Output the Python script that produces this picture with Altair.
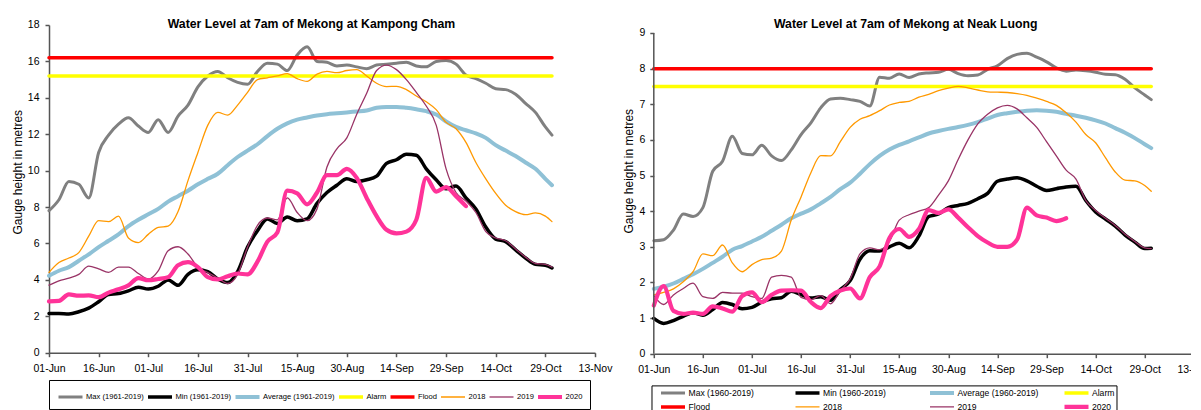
import altair as alt
import pandas as pd

# ---------------- data (days counted from 01-Jun) ----------------
DAYS = list(range(0, 151, 3)) + [152]
DAYS_2020 = DAYS[:43]
LINE_END = 152

TICK_DAYS = list(range(0, 166, 15))
TICK_LABELS = ["01-Jun", "16-Jun", "01-Jul", "16-Jul", "31-Jul", "15-Aug",
               "30-Aug", "14-Sep", "29-Sep", "14-Oct", "29-Oct", "13-Nov"]

KC_SERIES = ["Max (1961-2019)", "Min (1961-2019)", "Average (1961-2019)",
             "Alarm", "Flood", "2018", "2019", "2020"]
NL_SERIES = ["Max (1960-2019)", "Min (1960-2019)", "Average (1960-2019)",
             "Alarm", "Flood", "2018", "2019", "2020"]

# Kampong Cham
KC_MAX = [7.8, 8.4, 9.4, 9.25, 8.5, 11.0, 11.95, 12.55, 12.9, 12.45, 12.1, 12.8, 12.1,
          13.0, 13.6, 14.6, 15.2, 15.45, 15.1, 14.85, 14.75, 15.45, 15.9, 15.85, 15.5,
          16.35, 16.8, 16.0, 15.95, 15.75, 15.8, 15.7, 15.6, 15.8, 15.85, 15.9, 15.95,
          15.75, 15.7, 16.0, 16.05, 15.85, 15.25, 15.05, 14.8, 14.5, 14.45, 14.2, 13.7,
          13.2, 12.4, 11.95]
KC_MIN = [2.15, 2.15, 2.13, 2.25, 2.45, 2.8, 3.2, 3.25, 3.4, 3.6, 3.5, 3.65, 4.0, 3.7,
          4.3, 4.55, 4.45, 4.05, 3.85, 4.45, 5.8, 6.7, 7.35, 7.1, 7.45, 7.25, 7.35, 8.2,
          8.8, 9.2, 9.55, 9.4, 9.5, 9.7, 10.4, 10.6, 10.9, 10.85, 10.1, 9.5, 9.0, 9.15,
          8.5, 7.9, 6.9, 6.24, 6.1, 5.65, 5.2, 4.85, 4.8, 4.65]
KC_AVG = [4.22, 4.5, 4.7, 5.05, 5.4, 5.8, 6.15, 6.5, 6.95, 7.3, 7.6, 7.9, 8.3, 8.6, 8.9,
          9.25, 9.55, 9.83, 10.3, 10.75, 11.1, 11.45, 11.9, 12.3, 12.6, 12.8, 12.92,
          13.03, 13.1, 13.15, 13.2, 13.25, 13.3, 13.45, 13.5, 13.5, 13.45, 13.37, 13.27,
          13.08, 12.7, 12.4, 12.22, 12.05, 11.8, 11.4, 11.1, 10.8, 10.45, 10.1, 9.55, 9.2]
KC_2018 = [4.41, 4.95, 5.2, 5.5, 6.4, 7.25, 7.2, 7.5, 6.3, 6.05, 6.5, 6.88, 6.95, 7.75,
           9.45, 11.0, 12.5, 13.2, 13.05, 13.6, 14.3, 15.0, 15.1, 15.2, 15.33, 15.05,
           14.9, 15.3, 15.45, 15.38, 15.5, 15.55, 15.2, 14.8, 14.62, 14.63, 14.45, 14.1,
           13.78, 13.35, 12.65, 12.3, 11.55, 10.45, 9.55, 8.75, 8.1, 7.75, 7.58, 7.68,
           7.5, 7.2]
KC_2019 = [3.71, 3.95, 4.1, 4.3, 4.75, 4.6, 4.41, 4.7, 4.7, 4.35, 4.05, 4.5, 5.6, 5.82,
           5.42, 4.7, 4.4, 4.1, 3.8, 4.3, 5.8, 7.0, 7.4, 7.3, 8.5, 7.7, 7.25, 7.9, 10.2,
           11.2, 11.8, 13.1, 14.25, 15.5, 15.8, 15.55, 15.0, 14.3, 13.55, 12.5, 10.1, 8.8,
           8.33, 7.7, 6.65, 6.3, 6.15, 5.7, 5.25, 4.9, 4.85, 4.7]
KC_2020 = [2.82, 2.85, 3.2, 3.13, 3.15, 3.05, 3.3, 3.48, 3.7, 4.1, 3.98, 4.05, 4.15, 4.8,
           4.97, 4.7, 4.15, 4.02, 4.2, 4.35, 4.3, 5.0, 6.1, 6.6, 8.9, 8.75, 8.15, 8.8,
           9.75, 9.75, 10.1, 9.6, 8.5, 7.5, 6.75, 6.55, 6.65, 7.3, 9.6, 8.85, 9.1, 8.6,
           8.05]
KC_ALARM = 15.2
KC_FLOOD = 16.2

# Neak Luong
NL_MAX = [3.17, 3.2, 3.47, 3.92, 3.85, 4.1, 5.12, 5.4, 6.1, 5.62, 5.58, 5.85, 5.55, 5.42,
          5.72, 6.15, 6.48, 6.9, 7.15, 7.17, 7.13, 7.08, 6.95, 7.76, 7.73, 7.85, 7.75,
          7.85, 7.88, 7.9, 7.98, 7.86, 7.8, 7.82, 7.98, 8.08, 8.28, 8.4, 8.43, 8.32, 8.19,
          8.02, 7.93, 7.96, 7.94, 7.9, 7.84, 7.83, 7.7, 7.46, 7.26, 7.13]
NL_MIN = [0.99, 0.85, 0.93, 1.05, 1.15, 1.08, 1.24, 1.44, 1.38, 1.26, 1.3, 1.45, 1.54,
          1.57, 1.75, 1.66, 1.56, 1.6, 1.5, 1.8, 2.05, 2.65, 2.89, 2.88, 3.0, 3.1, 2.97,
          3.3, 3.85, 3.92, 4.1, 4.16, 4.22, 4.35, 4.5, 4.84, 4.9, 4.94, 4.85, 4.7, 4.58,
          4.63, 4.68, 4.7, 4.3, 3.98, 3.78, 3.58, 3.33, 3.13, 2.95, 2.96]
NL_AVG = [1.82, 1.88, 1.97, 2.1, 2.23, 2.38, 2.55, 2.72, 2.92, 3.02, 3.15, 3.28, 3.45,
          3.62, 3.8, 3.93, 4.05, 4.22, 4.4, 4.62, 4.8, 5.05, 5.32, 5.55, 5.73, 5.86, 5.96,
          6.07, 6.18, 6.25, 6.31, 6.36, 6.42, 6.5, 6.6, 6.7, 6.75, 6.79, 6.82, 6.83, 6.82,
          6.79, 6.73, 6.68, 6.62, 6.55, 6.46, 6.33, 6.2, 6.05, 5.88, 5.77]
NL_2018 = [1.65, 1.72, 1.82, 2.02, 2.3, 2.8, 2.75, 3.05, 2.55, 2.3, 2.5, 2.64, 2.68, 2.88,
           3.75, 4.4, 5.08, 5.56, 5.55, 5.95, 6.35, 6.58, 6.68, 6.82, 6.98, 7.05, 7.08,
           7.2, 7.28, 7.38, 7.45, 7.5, 7.46, 7.4, 7.35, 7.34, 7.33, 7.3, 7.25, 7.17, 7.08,
           6.97, 6.76, 6.5, 6.15, 5.92, 5.5, 5.1, 4.87, 4.85, 4.72, 4.56]
NL_2019 = [1.63, 1.38, 1.65, 1.83, 1.98, 1.6, 1.55, 1.72, 1.7, 1.7, 1.6, 1.55, 2.15, 2.2,
           2.15, 1.58, 1.52, 1.63, 1.4, 1.77, 2.1, 2.8, 2.97, 2.92, 3.15, 3.75, 3.9, 4.0,
           4.1, 4.45, 4.85, 5.45, 6.0, 6.45, 6.72, 6.9, 6.97, 6.87, 6.62, 6.35, 5.95, 5.55,
           5.15, 4.9, 4.3, 4.02, 3.8, 3.6, 3.35, 3.15, 2.97, 2.95]
NL_2020 = [1.35, 1.9, 1.2, 1.12, 1.15, 1.12, 1.33, 1.27, 1.18, 1.62, 1.72, 1.45, 1.65,
           1.77, 1.78, 1.77, 1.45, 1.28, 1.62, 1.77, 1.83, 1.55, 2.15, 2.45, 3.25, 3.5,
           3.28, 3.5, 4.03, 3.95, 4.05, 3.82, 3.55, 3.3, 3.12, 3.0, 3.0, 3.2, 4.1, 3.88,
           3.82, 3.72, 3.8]
NL_ALARM = 7.5
NL_FLOOD = 8.0

# ---------------- styles ----------------
COLORS = ["#808080", "#000000", "#8FC1D6", "#FFFF00", "#FF0000", "#FF9900", "#993366", "#FF3399"]
WIDTHS = [3, 3.5, 4, 3.5, 3.5, 1.3, 1.3, 4.2]
FONT = "Liberation Sans"
AXIS_COLOR = "#555555"
LABEL_EXPR = "[" + ",".join("'%s'" % t for t in TICK_LABELS) + "][round(datum.value / 15)]"


def build_frame(names, mx, mn, avg, alarm, flood, y18, y19, y20):
    parts = [
        (names[0], DAYS, mx), (names[1], DAYS, mn), (names[2], DAYS, avg),
        (names[3], [0, LINE_END], [alarm, alarm]),
        (names[4], [0, LINE_END], [flood, flood]),
        (names[5], DAYS, y18), (names[6], DAYS, y19), (names[7], DAYS_2020, y20),
    ]
    rows = []
    for name, ds, vs in parts:
        assert len(ds) == len(vs), (name, len(ds), len(vs))
        for d, v in zip(ds, vs):
            rows.append({"series": name, "day": d, "value": v})
    return pd.DataFrame(rows)


def panel(df, names, title, title_offset, title_dx, ymax, ytop, ystep, width, height,
          ylabel_pad, ytitle_y, legend, own_domain):
    x_scale = alt.Scale(domain=[0, 165], nice=False, zero=False)
    y_scale = alt.Scale(domain=[0, ytop], nice=False)
    x_axis = alt.Axis(values=TICK_DAYS, labelExpr=LABEL_EXPR, title=None, grid=False,
                      labelPadding=6.5, labelFlush=False, labelOverlap=False)
    y_axis = alt.Axis(values=list(range(0, ymax + 1, ystep)), domain=not own_domain,
                      title="Gauge height in metres", grid=False, labelPadding=ylabel_pad,
                      titlePadding=3, titleY=ytitle_y, labelFlush=False, labelOverlap=False)
    lines = alt.Chart(df).mark_line(interpolate="monotone", strokeCap="round",
                                    strokeJoin="round").encode(
        x=alt.X("day:Q", scale=x_scale, axis=x_axis),
        y=alt.Y("value:Q", scale=y_scale, axis=y_axis),
        color=alt.Color("series:N", scale=alt.Scale(domain=names, range=COLORS), legend=legend),
        strokeWidth=alt.StrokeWidth("series:N", scale=alt.Scale(type="ordinal", domain=names,
                                                               range=WIDTHS), legend=legend),
    )
    layers = [lines]
    if own_domain:
        # y-axis line that stops at the top tick value
        axis_line = alt.Chart(pd.DataFrame({"k": [0]})).mark_rule(
            color=AXIS_COLOR, strokeWidth=1.5).encode(
            x=alt.value(0),
            y=alt.YDatum(0, type="quantitative", scale=y_scale, axis=y_axis),
            y2=alt.Y2Datum(ymax))
        layers = [lines, axis_line]
    return alt.layer(*layers).properties(
        width=width, height=height,
        title=alt.TitleParams(text=title, frame="group", offset=title_offset, dx=title_dx,
                              anchor="middle", font=FONT, fontSize=12.3,
                              fontWeight="bold", color="#000000"),
    )


kc_df = build_frame(KC_SERIES, KC_MAX, KC_MIN, KC_AVG, KC_ALARM, KC_FLOOD, KC_2018, KC_2019, KC_2020)
nl_df = build_frame(NL_SERIES, NL_MAX, NL_MIN, NL_AVG, NL_ALARM, NL_FLOOD, NL_2018, NL_2019, NL_2020)

kc_legend = alt.Legend(orient="none", legendX=0, legendY=355, direction="horizontal",
                       columns=8, columnPadding=1.5, padding=7, strokeColor="#000000",
                       fillColor="#ffffff", symbolType="stroke", symbolSize=576,
                       labelFont=FONT, labelFontSize=7.6, labelOffset=1,
                       labelColor="#000000", title=" ", titleFontSize=4, titlePadding=1,
                       clipHeight=10)
nl_legend = alt.Legend(orient="none", legendX=-2.3, legendY=360.4, direction="horizontal",
                       columns=4, columnPadding=22.5, gridAlign="all", rowPadding=3,
                       padding=2, strokeColor="#000000", fillColor="#ffffff",
                       symbolType="stroke", symbolSize=576, labelFont=FONT,
                       labelFontSize=8.6, labelOffset=1, labelColor="#000000",
                       title=" ", titleOrient="left", titleFontSize=4, titlePadding=5,
                       clipHeight=11)

left = panel(kc_df, KC_SERIES, "Water Level at 7am of Mekong at Kampong Cham",
             -10.25, -10.5, 18, 18, 2, 546, 327.7, 6, 146.7, kc_legend, False)
right = panel(nl_df, NL_SERIES, "Water Level at 7am of Mekong at Neak Luong",
              -5.0, -18, 9, 9.2245, 1, 540, 328.7, 5, 145.7, nl_legend, True)

chart = alt.ConcatChart(concat=[left, right], columns=2, spacing=10.8).resolve_scale(
    color="independent", strokeWidth="independent"
).properties(
    padding={"left": 3, "top": 9, "right": -20, "bottom": -4.7},
    background="#ffffff",
).configure_view(stroke=None).configure_axis(
    domainColor=AXIS_COLOR, domainWidth=1.5, tickColor=AXIS_COLOR, tickWidth=1.5, tickSize=4,
    labelFont=FONT, labelFontSize=10.5, labelColor="#000000",
    titleFont=FONT, titleFontSize=12, titleFontWeight="normal", titleColor="#000000",
)

chart.save("out.html", embed_options={"renderer": "svg", "actions": False})
